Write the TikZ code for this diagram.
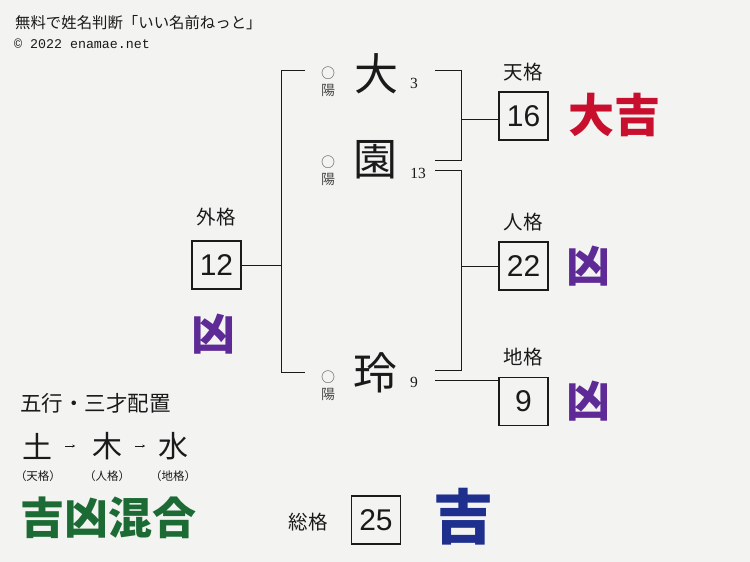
\documentclass[tikz,border=0pt]{standalone}
\usepackage{fontspec}
\usetikzlibrary{arrows.meta}
\setmainfont{Liberation Sans}
\newfontfamily\jp{Noto Sans CJK JP}
\newfontfamily\monof{Liberation Mono}
\newfontfamily\serifnum{Liberation Serif}
\definecolor{bg}{HTML}{F3F3F1}
\definecolor{ink}{HTML}{1A1A1A}
\definecolor{daikichi}{HTML}{C8102E}
\definecolor{kyou}{HTML}{5E2A96}
\definecolor{kichi}{HTML}{1E2F8E}
\definecolor{mixed}{HTML}{1C6B35}
\tikzset{
  numbox/.style={draw=ink, line width=1.5pt, minimum width=49pt, minimum height=48pt, inner sep=0pt, font=\fontsize{30}{30}\selectfont, text=ink},
  kaku/.style={font=\jp\fontsize{19.5}{19.5}\selectfont, text=ink, inner sep=0pt},
  namechar/.style={font=\jp\fontsize{44}{44}\selectfont, text=ink, inner sep=0pt},
  youmark/.style={font=\jp\fontsize{14}{14}\selectfont, text=ink!80, inner sep=0pt},
  strokes/.style={font=\serifnum\fontsize{15.5}{15.5}\selectfont, text=ink, inner sep=0pt},
  fortune/.style={font=\jp\bfseries\fontsize{44}{44}\selectfont, inner sep=0pt},
  conn/.style={draw=ink, line width=1pt},
  gogyo/.style={font=\jp\fontsize{30}{30}\selectfont, text=ink, inner sep=0pt},
  gsub/.style={font=\jp\fontsize{11.5}{11.5}\selectfont, text=ink, inner sep=0pt},
}
\begin{document}
\begin{tikzpicture}[x=1pt,y=-1pt]
\fill[bg] (0,0) rectangle (750,562);
\useasboundingbox (0,0) rectangle (750,562);
% header
\node[anchor=west, font=\jp\fontsize{15.4}{15.4}\selectfont, text=ink, inner sep=0pt] (title) at (15,23) {無料で姓名判断「いい名前ねっと」};
\node[anchor=west, font=\monof\fontsize{13.3}{13.3}\selectfont, text=ink, inner sep=0pt] (copy) at (14,44) {© 2022 enamae.net};
% name characters
\node[namechar] (c1) at (376,74) {大};
\node[namechar] (c2) at (375,160) {園};
\node[namechar] (c3) at (375,373) {玲};
\node[youmark] (o1) at (328,73) {○};
\node[youmark] (y1) at (328,90) {陽};
\node[youmark] (o2) at (328,162) {○};
\node[youmark] (y2) at (328,179) {陽};
\node[youmark] (o3) at (328,377) {○};
\node[youmark] (y3) at (328,394) {陽};
\node[strokes] (s1) at (414,83) {3};
\node[strokes] (s2) at (418,173) {13};
\node[strokes] (s3) at (414,382) {9};
% boxes
\node[numbox] (b16) at (523.5,116) {16};
\node[numbox] (b22) at (523.5,266) {22};
\node[numbox] (b9) at (523.5,401.5) {9};
\node[numbox] (b12) at (216.5,265) {12};
\node[numbox] (b25) at (376,520) {25};
% labels
\node[kaku] (k1) at (523,72) {天格};
\node[kaku] (k2) at (523,222) {人格};
\node[kaku] (k3) at (523,357) {地格};
\node[kaku] (k4) at (216,217) {外格};
\node[kaku] (k5) at (308,522) {総格};
% fortunes
\node[fortune, text=daikichi, font=\jp\bfseries\fontsize{46}{46}\selectfont] (f1) at (614,115) {大吉};
\node[fortune, text=kyou] (f2) at (588,266) {凶};
\node[fortune, text=kyou] (f3) at (588,401) {凶};
\node[fortune, text=kyou] (f4) at (213,334) {凶};
\node[fortune, text=kichi, font=\jp\bfseries\fontsize{60}{60}\selectfont] (f5) at (463,517) {吉};
\node[fortune, text=mixed] (f6) at (108,518) {吉凶混合};
% gogyo
\node[anchor=west, font=\jp\fontsize{21.5}{21.5}\selectfont, text=ink, inner sep=0pt] (gt) at (20,403) {五行・三才配置};
\node[gogyo] (g1) at (38,446) {土};
\node[gogyo] (g2) at (107,446) {木};
\node[gogyo] (g3) at (173,446) {水};
\node[gsub] (h1) at (38,476) {（天格）};
\node[gsub] (h2) at (107,476) {（人格）};
\node[gsub] (h3) at (173,476) {（地格）};
\draw[conn, line width=0.8pt, -{Stealth[length=3pt,width=3pt]}] ([xshift=12pt]g1.east) -- ([xshift=22pt]g1.east);
\draw[conn, line width=0.8pt, -{Stealth[length=3pt,width=3pt]}] ([xshift=13pt]g2.east) -- ([xshift=23pt]g2.east);
% left bracket
\coordinate (L1) at (305,70);
\coordinate (L2) at (281,70);
\coordinate (L3) at (281,372);
\coordinate (L4) at (305,372);
\draw[conn] (L1) -- (L2) -- (L3) -- (L4);
\draw[conn] (b12.east) -- (b12.east -| L2);
% top right bracket
\coordinate (T1) at (435,70);
\coordinate (T2) at (461,70);
\coordinate (T3) at (461,160);
\coordinate (T4) at (435,160);
\coordinate (TM) at (461,119);
\draw[conn] (T1) -- (T2) -- (T3) -- (T4);
\draw[conn] (TM) -- (TM -| b16.west);
% middle right bracket
\coordinate (M1) at (435,170);
\coordinate (M2) at (461,170);
\coordinate (M3) at (461,370);
\coordinate (M4) at (435,370);
\coordinate (MM) at (461,266);
\draw[conn] (M1) -- (M2) -- (M3) -- (M4);
\draw[conn] (MM) -- (MM -| b22.west);
% bottom line
\coordinate (B1) at (435,380);
\draw[conn] (B1) -- (B1 -| b9.west);
\end{tikzpicture}
\end{document}
